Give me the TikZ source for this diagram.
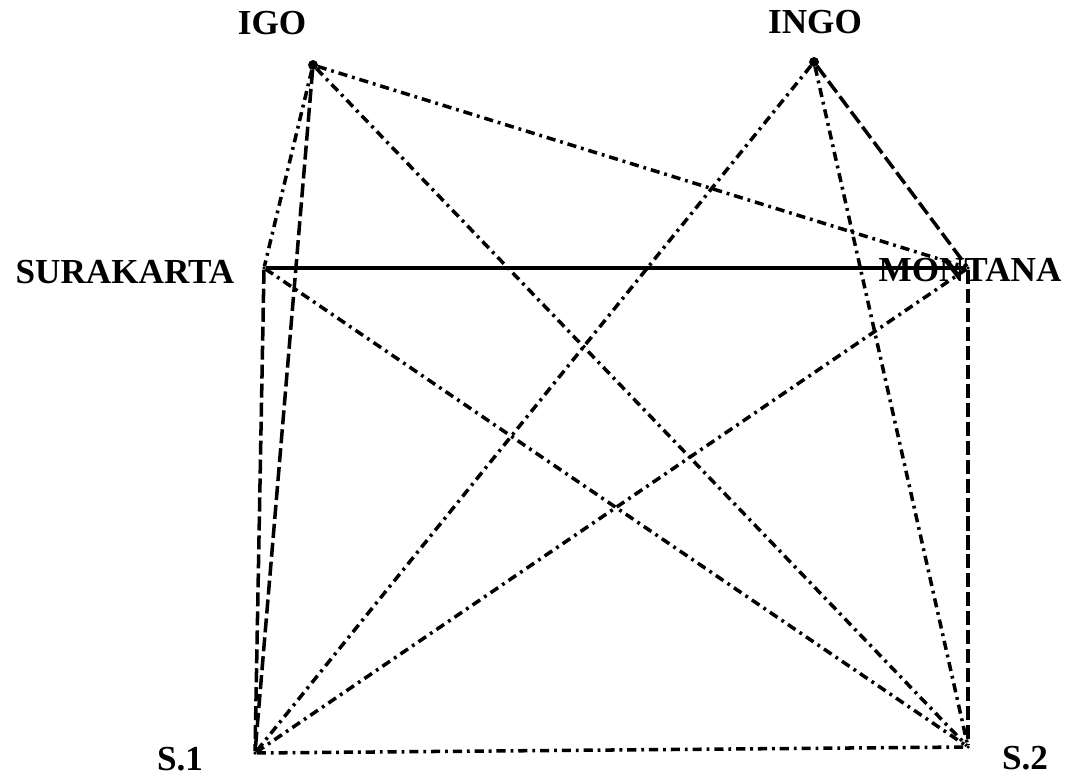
\documentclass[tikz,border=0pt]{standalone}
\usepackage{fontspec}
\setmainfont{Liberation Serif}

\begin{document}
\begin{tikzpicture}[
    line width=1pt,
    every node/.style={font=\fontsize{10}{12}\selectfont\bfseries, inner sep=1pt},
    dot/.style={circle, fill=black, inner sep=1pt, outer sep=0pt},
    dashdot/.style={dash pattern=on 2.6pt off 1.4pt on 0.8pt off 1.4pt},
    longdash/.style={dash pattern=on 4pt off 1.4pt}
]
    \useasboundingbox (0,0) rectangle (10.75,7.74);

    % --- POINTS ---
    \node[dot] (igo) at (3.13, 7.09) {};
    \node[dot] (ingo) at (8.14, 7.12) {};
    \node[dot, inner sep=0pt] (sura) at (2.64, 5.06) {};
    \node[dot, inner sep=0pt] (mont) at (9.68, 5.06) {};
    \node[dot, inner sep=0pt] (s1) at (2.55, 0.21) {};
    \node[dot, inner sep=0pt] (s2) at (9.68, 0.27) {};

    % --- LABELS ---
    \node (igo-lbl) at (2.72, 7.51) {IGO};
    \node (ingo-lbl) at (8.15, 7.52) {INGO};
    \node (sura-lbl) at (1.25, 5.02) {SURAKARTA};
    \node (mont-lbl) at (9.70, 5.04) {MONTANA};
    \node (s1-lbl) at (1.80, 0.15) {S.1};
    \node (s2-lbl) at (10.25, 0.16) {S.2};

    % Solid edge
    \draw (sura) -- (mont);

    % Dashed sides
    \draw[longdash] (sura) -- (s1);
    \draw[longdash] (mont) -- (s2);
    \draw[longdash] (igo) -- (s1);
    \draw[longdash] (ingo) -- (mont);

    % Dash-dot edges
    \draw[dashdot] (s1) -- (s2);
    \draw[dashdot] (igo) -- (sura);
    \draw[dashdot] (igo) -- (mont);
    \draw[dashdot] (igo) -- (s2);
    \draw[dashdot] (ingo) -- (s1);
    \draw[dashdot] (ingo) -- (s2);
    \draw[dashdot] (sura) -- (s2);
    \draw[dashdot] (mont) -- (s1);

\end{tikzpicture}
\end{document}
